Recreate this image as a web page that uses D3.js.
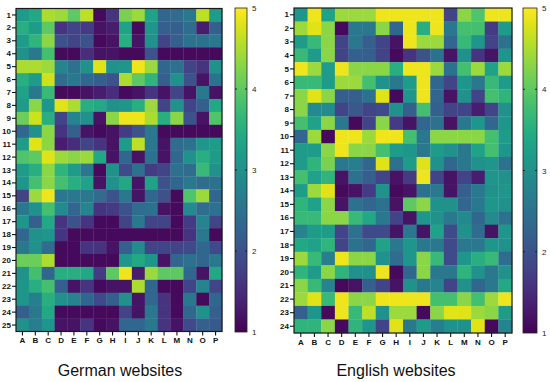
<!DOCTYPE html>
<html>
<head>
<meta charset="utf-8">
<script src="https://cdn.jsdelivr.net/npm/d3@7"></script>
<style>
  body { margin: 0; background: #fff; }
  text { font-family: "Liberation Sans", Arial, sans-serif; }
</style>
</head>
<body>
<svg id="chart" width="550" height="382"></svg>
<script>
// columns / rows
const columns = ["A","B","C","D","E","F","G","H","I","J","K","L","M","N","O","P"]
const germanRows = ["1","2","3","4","5","6","7","8","9","10","11","12","13","14","15","16","17","18","19","20","21","22","23","24","25"]
const englishRows = ["1","2","3","4","5","6","7","8","9","10","11","12","13","14","15","16","17","18","19","20","21","22","23","24"]
const scaleTicks = [1, 2, 3, 4, 5]

// ratings, one line per row, columns A..P
const germanValues = [
  [3.2,3.4,4.5,4.4,4.0,4.6,1.1,1.6,4.2,4.4,3.3,2.3,2.4,2.6,4.6,3.2],
  [3.5,3.2,4.0,1.6,1.8,1.7,1.2,1.3,3.3,1.1,3.1,2.2,2.2,2.4,1.3,2.2],
  [3.2,3.6,4.3,2.0,1.8,2.0,1.1,1.2,3.5,1.2,3.0,1.8,2.2,2.5,2.5,2.6],
  [3.0,2.6,3.8,1.1,1.1,1.5,1.2,1.2,1.1,1.1,2.0,1.1,1.1,1.1,1.1,1.1],
  [4.5,4.5,4.4,2.8,2.5,3.0,4.8,3.0,3.1,4.9,4.4,2.3,2.5,1.8,1.6,3.0],
  [3.5,3.2,4.7,2.4,2.6,2.3,2.2,2.0,4.5,4.0,3.6,2.2,3.0,2.0,1.2,2.5],
  [3.3,2.6,3.7,1.1,1.1,1.2,1.3,1.5,1.1,1.2,1.6,1.2,1.8,1.2,2.6,1.2],
  [3.2,4.3,3.1,4.8,4.5,3.5,3.4,3.0,3.1,3.5,4.4,1.8,3.0,1.8,2.2,3.4],
  [4.1,4.7,3.5,1.8,2.8,3.0,1.2,4.3,4.9,4.9,4.5,3.5,4.3,2.0,1.2,3.9],
  [2.3,3.0,4.3,1.6,2.2,1.2,1.1,1.2,1.7,2.0,2.6,1.1,1.1,1.1,1.1,1.1],
  [3.2,4.8,4.3,1.3,1.5,1.8,1.6,1.2,3.2,4.6,2.6,1.2,2.4,2.5,3.1,3.2],
  [3.9,4.0,4.8,4.4,4.3,4.4,3.4,1.2,2.3,1.2,2.5,1.2,2.3,3.0,3.5,3.2],
  [3.2,3.5,4.3,3.6,3.2,2.6,1.1,3.0,1.9,2.5,1.7,1.8,2.5,2.4,3.7,3.0],
  [3.1,3.8,4.3,3.8,3.5,3.3,1.2,3.0,3.4,1.2,3.3,2.0,2.3,2.6,2.4,2.5],
  [1.8,4.4,4.9,2.6,2.6,2.6,2.4,2.0,2.6,1.2,2.3,2.0,1.1,3.9,4.4,2.3],
  [2.6,3.0,3.8,2.9,2.3,2.8,1.6,1.7,2.0,2.4,2.5,1.2,1.1,2.9,2.4,2.5],
  [3.1,2.2,3.4,1.6,2.0,1.6,1.1,1.1,1.8,2.6,1.8,1.8,1.1,1.7,2.8,1.8],
  [2.3,3.0,3.1,1.6,1.1,1.1,1.1,1.1,1.1,1.1,1.1,1.1,1.1,1.6,2.6,1.1],
  [2.6,3.0,2.4,1.1,1.1,1.6,1.6,1.2,2.2,2.9,1.8,1.8,1.8,1.9,2.3,1.9],
  [4.1,4.1,4.5,1.1,1.1,1.1,1.1,1.1,3.1,3.4,3.1,1.2,2.3,2.5,2.3,2.6],
  [3.0,3.8,2.3,3.5,3.5,3.4,1.7,4.0,4.9,1.3,4.4,4.0,4.0,2.3,1.2,3.4],
  [3.1,3.5,3.8,2.2,1.2,1.6,1.1,1.2,1.2,4.5,2.3,1.1,1.1,1.8,2.8,1.8],
  [3.1,2.7,3.5,3.0,2.8,2.3,1.9,2.2,3.0,1.2,2.3,1.6,1.1,2.6,1.1,2.3],
  [2.2,2.6,3.4,1.1,1.1,1.1,1.1,1.1,1.8,1.2,2.6,1.6,1.1,2.3,3.0,2.2],
  [3.0,2.7,3.1,1.2,1.2,1.6,1.1,1.2,2.3,2.3,2.6,1.6,1.2,1.9,2.2,2.1]
]

const englishValues = [
  [3.1,4.9,3.3,4.4,4.4,4.4,4.9,4.9,4.9,4.9,4.9,1.8,4.3,3.9,4.9,4.9],
  [4.4,4.8,4.3,1.1,2.6,2.6,4.3,2.3,4.9,3.5,4.9,2.6,3.8,3.8,1.7,3.2],
  [3.2,3.7,4.3,1.8,2.6,2.2,1.8,1.2,4.9,4.4,4.4,2.3,3.7,3.1,1.8,2.5],
  [3.7,3.2,4.3,1.8,2.2,2.2,1.8,1.1,1.6,2.0,2.5,1.2,3.0,1.6,1.2,3.1],
  [4.9,4.4,3.2,4.9,4.3,4.3,4.3,3.5,4.9,4.9,4.4,2.5,3.8,4.4,3.3,4.4],
  [3.7,3.7,3.2,4.4,4.4,3.8,3.0,2.6,3.2,4.9,2.3,1.8,3.1,2.6,3.7,3.2],
  [4.3,4.8,4.3,2.2,2.2,2.5,4.8,1.1,3.1,4.9,2.3,1.2,3.0,1.8,3.8,3.6],
  [4.3,2.9,2.9,1.8,2.1,1.8,1.9,3.0,2.2,3.8,2.2,1.8,1.8,1.3,1.8,3.0],
  [3.8,3.3,4.3,2.6,1.1,1.8,4.3,1.7,1.2,2.3,2.5,1.2,2.6,3.1,2.3,3.1],
  [2.3,4.4,1.1,4.9,4.9,4.4,4.9,4.9,3.8,2.6,4.3,4.3,4.3,4.3,3.8,3.2],
  [3.2,3.2,4.3,4.9,4.3,4.3,3.8,3.2,3.1,2.6,3.2,3.0,2.6,3.3,3.8,3.1],
  [3.2,3.6,4.2,2.6,2.7,2.3,4.8,2.5,3.2,4.8,3.0,2.3,2.6,3.0,3.1,2.5],
  [3.8,3.3,3.6,1.2,2.5,2.2,1.8,1.2,1.7,4.9,1.8,1.2,1.8,1.3,3.1,3.0],
  [3.2,4.4,4.8,1.1,1.2,1.7,3.0,1.1,1.2,2.5,2.6,1.2,2.2,2.6,3.0,3.1],
  [3.6,3.3,4.3,1.2,2.5,2.3,2.5,1.2,4.0,4.3,3.0,3.0,2.3,2.6,3.1,3.0],
  [3.7,3.7,4.3,4.3,3.7,3.4,2.6,1.8,1.2,3.1,3.0,2.6,2.9,2.3,2.9,2.5],
  [2.8,3.2,3.2,1.8,2.5,1.9,1.9,1.2,2.6,1.2,3.3,1.9,3.0,2.4,1.2,3.1],
  [3.4,3.3,3.6,1.8,2.5,2.3,3.3,2.6,3.1,2.6,2.6,1.9,2.6,2.6,3.1,3.0],
  [4.4,3.7,2.7,4.9,4.3,4.3,3.0,2.4,3.1,4.3,3.7,1.9,3.1,3.5,3.7,2.4],
  [3.6,3.2,4.3,3.6,3.0,3.0,4.9,1.1,2.3,4.3,2.6,2.6,3.6,3.0,2.6,3.0],
  [4.3,3.7,2.8,1.1,1.2,2.2,1.8,1.2,3.0,2.6,2.8,1.8,3.0,2.3,2.6,3.4],
  [4.4,4.8,3.7,4.9,4.3,4.3,4.9,4.9,4.9,4.9,3.8,3.8,4.3,3.8,4.4,4.9],
  [2.2,3.1,1.1,4.9,3.7,4.6,3.0,4.4,4.4,1.1,4.3,4.8,4.8,4.4,4.3,3.2],
  [3.6,3.6,4.3,1.1,3.6,3.1,1.8,4.8,2.6,3.2,2.7,3.0,3.0,4.8,1.1,2.8]
]

const color = d3.scaleSequential(d3.interpolateViridis).domain([1, 5])
const svg = d3.select('#chart')

// gradient shared by both colour bars (bottom = 1, top = 5)
const grad = svg.append('defs').append('linearGradient')
    .attr('id', 'viridis').attr('x1', 0).attr('y1', 1).attr('x2', 0).attr('y2', 0)
grad.selectAll('stop')
    .data(d3.range(0, 1.0001, 0.05))
    .join('stop')
    .attr('offset', d => d)
    .attr('stop-color', d => color(1 + d * 4))

function drawPanel(opt) {
    let g = svg.append('g')
    let x = d3.scaleBand().domain(columns).range([opt.left, opt.right])
    let y = d3.scaleBand().domain(opt.rows).range([opt.top, opt.bottom])

    let cells = []
    opt.values.forEach((row, i) => {
        row.forEach((v, j) => cells.push({ r: opt.rows[i], c: columns[j], v: v }))
    })
    g.selectAll('rect.cell')
        .data(cells)
        .join('rect')
        .attr('class', 'cell')
        .attr('x', d => x(d.c))
        .attr('y', d => y(d.r))
        .attr('width', x.bandwidth() + 0.3)
        .attr('height', y.bandwidth() + 0.3)
        .attr('fill', d => color(d.v))

    g.append('rect')
        .attr('x', opt.left).attr('y', opt.top)
        .attr('width', opt.right - opt.left).attr('height', opt.bottom - opt.top)
        .attr('fill', 'none').attr('stroke', '#1a1a1a').attr('stroke-width', 1.2)

    let ya = g.append('g')
        .attr('transform', `translate(${opt.left},0)`)
        .call(d3.axisLeft(y).tickSize(4).tickPadding(1))
    let xa = g.append('g')
        .attr('transform', `translate(0,${opt.bottom})`)
        .call(d3.axisBottom(x).tickSize(4).tickPadding(2))
    for (let a of [ya, xa]) {
        a.select('.domain').remove()
        a.selectAll('line').attr('stroke', '#111').attr('stroke-width', 1.1)
        a.selectAll('text')
            .attr('font-size', 8).attr('font-weight', 'bold')
            .attr('fill', '#111')
            .attr('font-family', '"Liberation Sans", Arial, sans-serif')
    }

    // colour bar
    let cy = d3.scaleLinear().domain([1, 5]).range([opt.cbBottom, opt.cbTop])
    g.append('rect')
        .attr('x', opt.cbX).attr('y', opt.cbTop)
        .attr('width', opt.cbW).attr('height', opt.cbBottom - opt.cbTop)
        .attr('fill', 'url(#viridis)')
        .attr('stroke', '#222').attr('stroke-width', 0.8)
    let ca = g.append('g')
        .attr('transform', `translate(${opt.cbX + opt.cbW},0)`)
        .call(d3.axisRight(cy).tickValues(scaleTicks).tickFormat(d3.format('d')).tickSize(0).tickPadding(5))
    ca.select('.domain').remove()
    ca.selectAll('text')
        .attr('font-size', 8).attr('fill', '#222')
        .attr('font-family', '"Liberation Sans", Arial, sans-serif')
    // small inner tick marks on both edges
    g.selectAll('line.cbtick')
        .data(scaleTicks.slice(1, 4))
        .join('line')
        .attr('x1', opt.cbX).attr('x2', opt.cbX + 2)
        .attr('y1', d => cy(d)).attr('y2', d => cy(d))
        .attr('stroke', '#222')
    g.selectAll('line.cbtick2')
        .data(scaleTicks.slice(1, 4))
        .join('line')
        .attr('x1', opt.cbX + opt.cbW - 2).attr('x2', opt.cbX + opt.cbW)
        .attr('y1', d => cy(d)).attr('y2', d => cy(d))
        .attr('stroke', '#222')

    g.append('text')
        .attr('x', (opt.left + opt.right) / 2 + opt.titleShift)
        .attr('y', 376)
        .attr('text-anchor', 'middle')
        .attr('font-size', 16)
        .attr('fill', '#111')
        .text(opt.title)
}

drawPanel({
    values: germanValues, rows: germanRows,
    left: 16, right: 222, top: 8.5, bottom: 331.5,
    cbX: 235, cbW: 12, cbTop: 8, cbBottom: 332,
    title: 'German websites', titleShift: 1
})
drawPanel({
    values: englishValues, rows: englishRows,
    left: 294, right: 512, top: 8, bottom: 333,
    cbX: 523, cbW: 14, cbTop: 8, cbBottom: 333,
    title: 'English websites', titleShift: -7
})
</script>
</body>
</html>
